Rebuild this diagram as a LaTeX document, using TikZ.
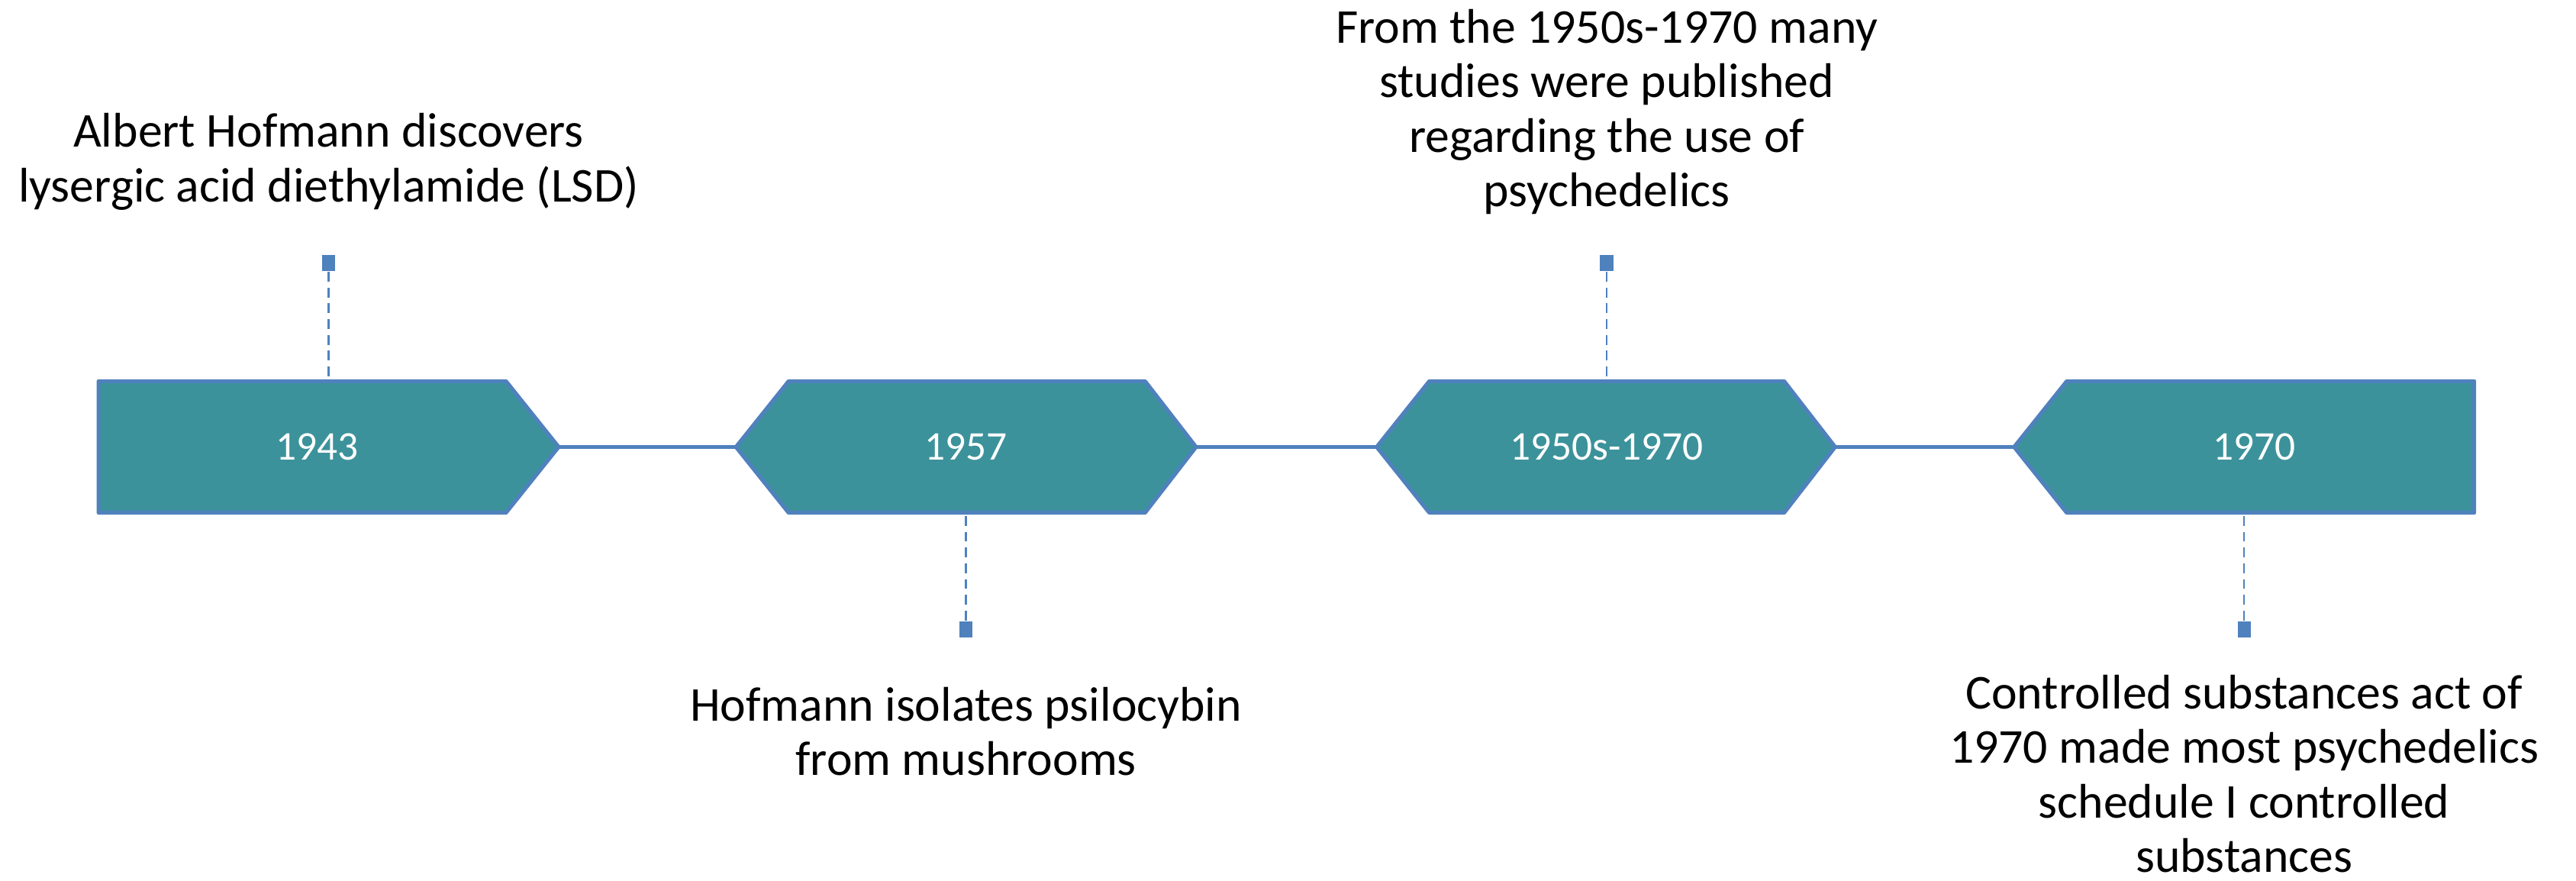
\documentclass[tikz,border=0pt]{standalone}
\usepackage{fontspec}
\setmainfont{Carlito}
\definecolor{tealfill}{RGB}{60,146,154}
\definecolor{edgeblue}{RGB}{79,129,189}
\begin{document}
\begin{tikzpicture}[x=0.5pt,y=-0.5pt,
  boxst/.style={draw=edgeblue,fill=tealfill,line width=1.2pt,line join=round},
  yearst/.style={text=white,font=\fontsize{12.4}{14}\selectfont,inner sep=0pt},
  markst/.style={fill=edgeblue,draw=none,minimum width=4pt,minimum height=5pt,inner sep=0pt},
  dashst/.style={draw=edgeblue,line width=0.55pt,dash pattern=on 3pt off 1.8pt},
  linkst/.style={draw=edgeblue,line width=1.2pt},
  labelst/.style={align=center,font=\fontsize{14.8}{16.6}\selectfont,inner sep=0pt}]
\useasboundingbox (0,0) rectangle (1568,536);
% boxes
\draw[boxst] (60,232) -- (308,232) -- (340,272) coordinate (b1r) -- (308,312) -- (60,312) -- cycle;
\draw[boxst] (448,272) coordinate (b2l) -- (480,232) -- (697,232) -- (728,272) coordinate (b2r) -- (697,312) -- (480,312) -- cycle;
\draw[boxst] (838,272) coordinate (b3l) -- (870,232) -- (1086,232) -- (1117,272) coordinate (b3r) -- (1086,312) -- (870,312) -- cycle;
\draw[boxst] (1226,272) coordinate (b4l) -- (1258,232) -- (1506,232) -- (1506,312) -- (1258,312) -- cycle;
\coordinate (b1t) at (200,232);
\coordinate (b2b) at (588,312);
\coordinate (b3t) at (978,232);
\coordinate (b4b) at (1366,312);
% years
\node[yearst] (y1) at (193,272) {1943};
\node[yearst] (y2) at (588,272) {1957};
\node[yearst] (y3) at (978,272) {1950s-1970};
\node[yearst] (y4) at (1372,272) {1970};
% links
\draw[linkst] (b1r) -- (b2l);
\draw[linkst] (b2r) -- (b3l);
\draw[linkst] (b3r) -- (b4l);
% markers
\node[markst] (m1) at (200,160) {};
\node[markst] (m2) at (588,383) {};
\node[markst] (m3) at (978,160) {};
\node[markst] (m4) at (1366,383) {};
\draw[dashst] (m1.south) -- (b1t);
\draw[dashst] (m2.north) -- (b2b);
\draw[dashst] (m3.south) -- (b3t);
\draw[dashst] (m4.north) -- (b4b);
% labels
\node[labelst] (t1) at (200,98.5) {Albert Hofmann discovers\\lysergic acid diethylamide (LSD)};
\node[labelst] (t2) at (588,445) {Hofmann isolates psilocybin\\from mushrooms};
\node[labelst] (t3) at (978,68) {From the 1950s-1970 many\\studies were published\\regarding the use of\\psychedelics};
\node[labelst] (t4) at (1366,471) {Controlled substances act of\\1970 made most psychedelics\\schedule I controlled\\substances};
\end{tikzpicture}
\end{document}
